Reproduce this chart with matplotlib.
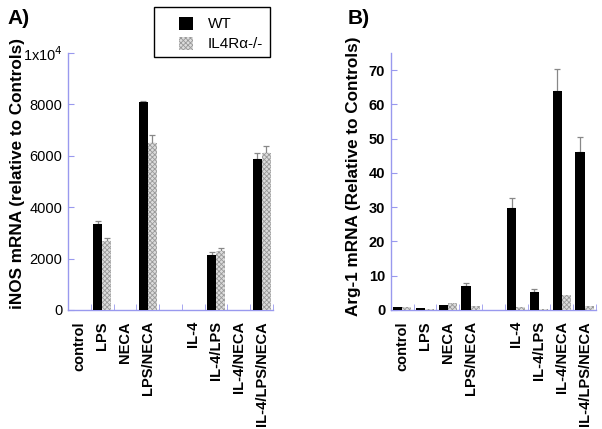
import matplotlib
matplotlib.use("Agg")
import matplotlib.pyplot as plt
import numpy as np
from matplotlib.patches import Rectangle

plt.rcParams["hatch.linewidth"] = 0.6

categories = ["control", "LPS", "NECA", "LPS/NECA", "", "IL-4", "IL-4/LPS", "IL-4/NECA", "IL-4/LPS/NECA"]
series_names = ["WT", "IL4R\u03b1-/-"]

# Panel A: iNOS mRNA
inos_wt = [1, 3350, 1, 8100, np.nan, 1, 2140, 1, 5890]
inos_wt_err = [0, 120, 0, 50, np.nan, 0, 100, 0, 230]
inos_ko = [1, 2700, 1, 6480, np.nan, 1, 2300, 1, 6090]
inos_ko_err = [0, 120, 0, 320, np.nan, 0, 100, 0, 290]

# Panel B: Arg-1 mRNA
arg_wt = [1.0, 0.7, 1.4, 7.0, np.nan, 29.9, 5.3, 63.9, 46.0]
arg_wt_err = [0, 0, 0, 0.8, np.nan, 2.9, 0.7, 6.5, 4.6]
arg_ko = [0.9, 0.3, 1.9, 1.2, np.nan, 0.8, 0.3, 4.3, 1.1]
arg_ko_err = [0, 0, 0, 0, np.nan, 0, 0, 0, 0]

axis_color = "#9999ee"
err_color = "#888888"
ko_face = "#dcdcdc"
ko_hatch_color = "#999999"
ko_hatch = "xxxxxxx"

W, H = 602, 429
fig = plt.figure(figsize=(6.02, 4.29), dpi=100)
axA = fig.add_axes([0.113, 0.2774, 0.3405, 0.5991])
axB = fig.add_axes([0.649, 0.2774, 0.341, 0.5991])

x = np.arange(len(categories))
w = 0.4

def draw(ax, wt, wte, ko, koe):
    wt = np.array(wt, float); ko = np.array(ko, float)
    wte = np.array(wte, float); koe = np.array(koe, float)
    ax.bar(x - w/2, wt, w, color="black", zorder=3)
    ax.bar(x + w/2, ko, w, facecolor=ko_face, edgecolor=ko_hatch_color,
           hatch=ko_hatch, linewidth=0, zorder=3)
    m = wte > 0
    ax.errorbar(x[m] - w/2, wt[m], yerr=[np.zeros(m.sum()), wte[m]], fmt="none",
                ecolor=err_color, elinewidth=0.9, capsize=2.5, capthick=0.9, zorder=2)
    m = koe > 0
    ax.errorbar(x[m] + w/2, ko[m], yerr=[np.zeros(m.sum()), koe[m]], fmt="none",
                ecolor=err_color, elinewidth=0.9, capsize=2.5, capthick=0.9, zorder=2)
    ax.set_xlim(-0.5, len(categories) - 0.5)
    for s in ["top", "right"]:
        ax.spines[s].set_visible(False)
    for s in ["left", "bottom"]:
        ax.spines[s].set_color(axis_color)
        ax.spines[s].set_linewidth(1.0)
    ax.set_xticks(np.arange(len(categories) + 1) - 0.5, minor=True)
    ax.tick_params(axis="x", which="minor", direction="in", length=4, color=axis_color)
    ax.tick_params(axis="x", which="major", length=0, pad=8)
    ax.set_xticks(x)
    ax.set_xticklabels(categories, rotation=90, fontweight="bold", fontsize=10.5,
                       family="Liberation Sans")
    ax.tick_params(axis="y", direction="in", length=4, color=axis_color, pad=4)

draw(axA, inos_wt, inos_wt_err, inos_ko, inos_ko_err)
axA.set_ylim(0, 10000)
axA.set_yticks([0, 2000, 4000, 6000, 8000, 10000])
axA.set_yticklabels(["0", "2000", "4000", "6000", "8000", r"1x10$^4$"],
                    fontsize=10.5, family="Liberation Sans")
axA.set_ylabel("iNOS mRNA (relative to Controls)", fontweight="bold", fontsize=12.3,
               family="Liberation Sans")
axA.yaxis.set_label_coords(-0.212, 0.531)

draw(axB, arg_wt, arg_wt_err, arg_ko, arg_ko_err)
axB.set_ylim(0, 75)
axB.set_yticks([0, 10, 20, 30, 40, 50, 60, 70])
axB.set_yticklabels(["0", "10", "20", "30", "40", "50", "60", "70"],
                    fontsize=10.5, fontweight="bold", family="Liberation Sans")
axB.set_ylabel("Arg-1 mRNA (Relative to Controls)", fontweight="bold", fontsize=12.3,
               family="Liberation Sans")
axB.yaxis.set_label_coords(-0.145, 0.519)

fig.text(0.012, 0.958, "A)", fontsize=15, fontweight="bold", family="Liberation Sans",
         va="center", ha="left")
fig.text(0.578, 0.958, "B)", fontsize=15, fontweight="bold", family="Liberation Sans",
         va="center", ha="left")

# Legend (drawn in figure pixel fractions)
def fx(px): return px / W
def fy(py): return 1 - py / H
fig.patches.append(Rectangle((fx(154), fy(57)), fx(270) - fx(154), fy(7) - fy(57),
                             transform=fig.transFigure, facecolor="white",
                             edgecolor="black", linewidth=1.0, zorder=5))
fig.patches.append(Rectangle((fx(179), fy(30)), fx(193) - fx(179), fy(17) - fy(30),
                             transform=fig.transFigure, facecolor="black",
                             edgecolor="black", linewidth=0, zorder=6))
fig.patches.append(Rectangle((fx(179), fy(50)), fx(193) - fx(179), fy(37) - fy(50),
                             transform=fig.transFigure, facecolor=ko_face,
                             edgecolor=ko_hatch_color, hatch=ko_hatch, linewidth=0, zorder=6))
fig.text(fx(208), fy(23.5), series_names[0], fontsize=11, family="Liberation Sans",
         va="center", ha="left", zorder=7)
fig.text(fx(208), fy(43.5), series_names[1], fontsize=11, family="Liberation Sans",
         va="center", ha="left", zorder=7)

fig.savefig("out.png", dpi=100)
